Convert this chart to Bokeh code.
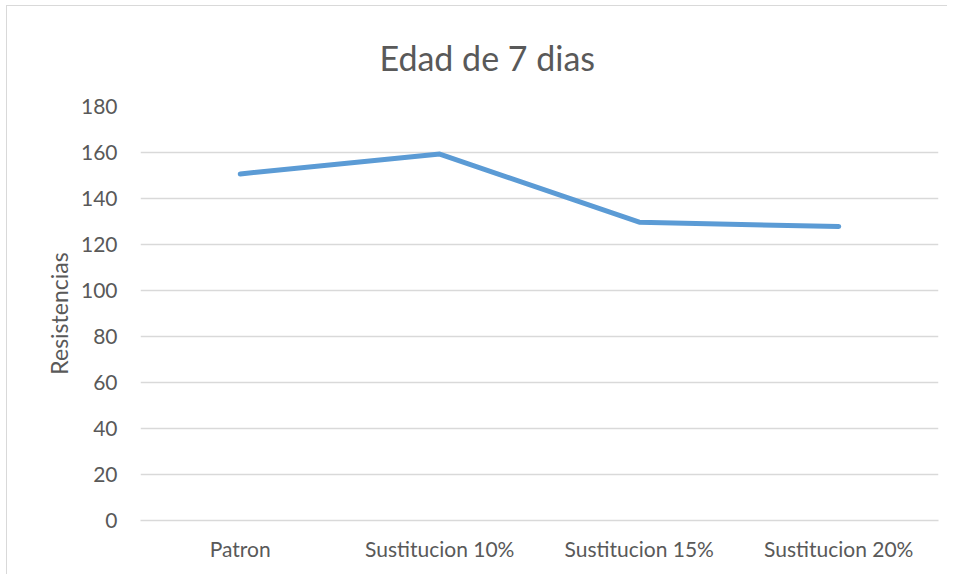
from bokeh.plotting import figure
from bokeh.models import Range1d, FactorRange, SingleIntervalTicker
from bokeh.embed import file_html
from bokeh.resources import INLINE

categories = ["Patron", "Sustitucion 10%", "Sustitucion 15%", "Sustitucion 20%"]
resistencias = [150.7, 159.3, 129.7, 127.8]
title_text = "Edad de 7 dias"
y_label = "Resistencias"
y_max = 180

FONT = "Lato"
TXT = "#595959"
GRID = "#d9d9d9"

p = figure(width=941, height=569, output_backend="svg", toolbar_location=None,
           x_range=FactorRange(*categories, range_padding=0),
           y_range=Range1d(0, y_max),
           min_border_left=133, min_border_right=10, min_border_top=99, min_border_bottom=55)

p.line(categories, resistencias, line_color="#5b9bd5", line_width=5, line_cap="round", line_join="round")

p.title.text = title_text
p.title.align = "left"
p.title.offset = 239
p.title.vertical_align = "bottom"
p.title.standoff = 57
p.title.text_font = FONT
p.title.text_font_size = "34px"
p.title.text_font_style = "normal"
p.title.text_color = TXT

p.outline_line_color = None
p.background_fill_color = "white"
p.border_fill_color = "white"

p.xgrid.grid_line_color = None
p.ygrid.grid_line_color = GRID
p.ygrid.grid_line_width = 1.3

p.yaxis.ticker = SingleIntervalTicker(interval=20)
p.yaxis.axis_line_color = None
p.yaxis.major_tick_line_color = None
p.yaxis.minor_tick_line_color = None
p.yaxis.major_label_text_font = FONT
p.yaxis.major_label_text_font_size = "21px"
p.yaxis.major_label_text_color = TXT
p.yaxis.major_label_standoff = 17
p.yaxis.axis_label = y_label
p.yaxis.axis_label_text_font = FONT
p.yaxis.axis_label_text_font_size = "23px"
p.yaxis.axis_label_text_font_style = "normal"
p.yaxis.axis_label_text_color = TXT
p.yaxis.axis_label_standoff = 5

p.xaxis.axis_line_color = GRID
p.xaxis.axis_line_width = 1.3
p.xaxis.major_tick_line_color = None
p.xaxis.minor_tick_line_color = None
p.xaxis.major_label_text_font = FONT
p.xaxis.major_label_text_font_size = "21px"
p.xaxis.major_label_text_color = TXT
p.xaxis.major_label_standoff = 9

p.styles = {"margin-left": "6px", "margin-top": "5px",
            "border-left": "1.5px solid #d9d9d9", "border-top": "1.5px solid #d9d9d9"}

open("out.html", "w").write(file_html(p, INLINE))
